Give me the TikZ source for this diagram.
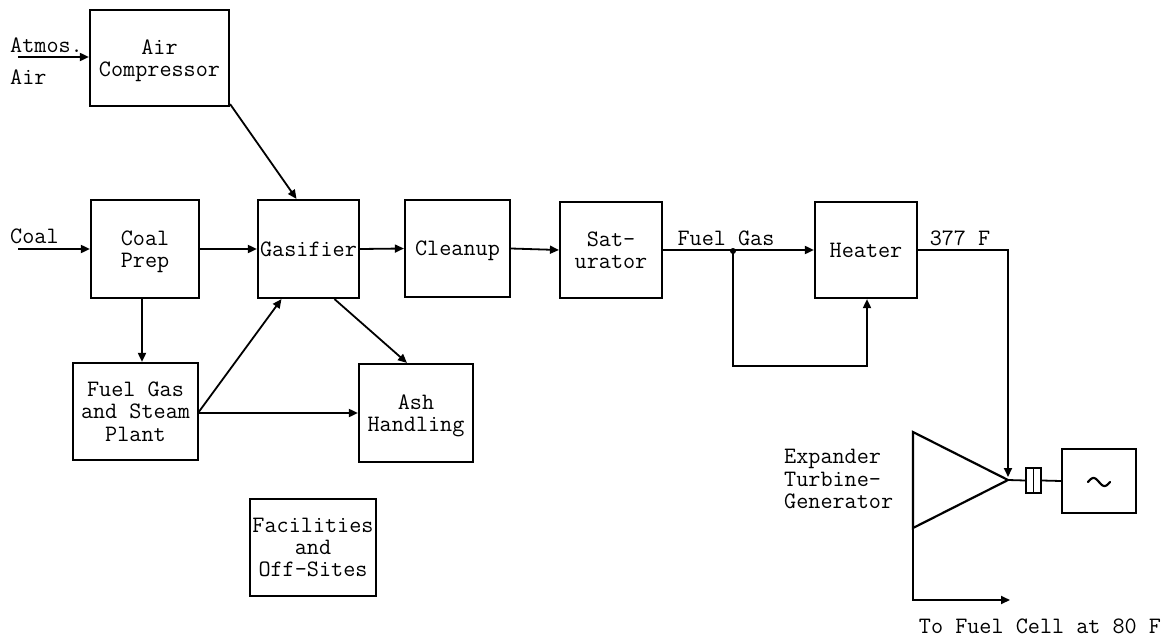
\documentclass[tikz,border=0pt]{standalone}
\usepackage{fontspec}
\usetikzlibrary{arrows.meta,calc}
\begin{document}
\begin{tikzpicture}[x=1pt,y=-1pt,
  every node/.style={font=\ttfamily\fontsize{23.5}{22.3}\selectfont, inner sep=0pt},
  box/.style={draw, line width=2.2pt, align=center, text depth=0pt},
  lbl/.style={align=left},
  flow/.style={line width=1.8pt, -{Triangle[length=9pt,width=8pt]}},
  line/.style={line width=1.8pt}]
\useasboundingbox (0,0) rectangle (1173,642);
% boxes
\node[box, minimum width=139, minimum height=96] (ac) at (159.5,58) {Air\\Compressor};
\node[box, minimum width=108, minimum height=98] (cp) at (145,249) {Coal\\Prep};
\node[box, minimum width=101, minimum height=98] (gas) at (308.5,249) {Gasifier};
\node[box, minimum width=105, minimum height=97] (cl) at (457.5,248.5) {Cleanup};
\node[box, minimum width=102, minimum height=96] (sat) at (611,250) {Sat-\\urator};
\node[box, minimum width=102, minimum height=96] (heat) at (866,250) {Heater};
\node[box, minimum width=125, minimum height=97] (fg) at (135.5,411.5) {Fuel Gas\\and Steam\\Plant};
\node[box, minimum width=114, minimum height=98] (ash) at (416,413) {Ash\\Handling};
\node[box, minimum width=126, minimum height=97] (fac) at (313,547.5) {Facilities\\and\\Off-Sites};
\node[box, minimum width=74, minimum height=64] (gen) at (1099,481) {};
\begin{scope}[shift={(gen.center)}]
  \draw[line width=2.2pt, line cap=round] plot[domain=-11:11, samples=40, smooth] ({\x},{1+4*sin(\x*180/11)});
\end{scope}
% turbine
\coordinate (tl) at (913,432);
\coordinate (bl) at (913,528);
\coordinate (tip) at (1008,480);
\draw[line width=2.2pt, line join=miter] (tl) -- (tip) -- (bl) -- cycle;
\node[draw, line width=1.8pt, minimum width=15, minimum height=25] (cpl) at (1033.5,480.5) {};
\draw[line width=1.5pt] (cpl.north) -- (cpl.south);
\draw[line] (tip) -- (cpl.west);
\draw[line] (cpl.east) -- (gen.west);
% labels
\node[anchor=west] (atm) at (10,45) {Atmos.};
\node[anchor=west] (air) at (10,77) {Air};
\node[anchor=west] (coal) at (10,236) {Coal};
\node (fuelgas) at (726,238) {Fuel Gas};
\node (t377) at (960,238) {377 F};
\node[lbl, anchor=west] (exp) at (784,479) {Expander\\Turbine-\\Generator};
\node (tofc) at (1040,626) {To Fuel Cell at 80 F};
% inputs
\coordinate (atmin) at (18,57);
\coordinate (coalin) at (18,249);
\draw[flow] (atmin) -- (atmin -| ac.west);
\draw[flow] (coalin) -- (coalin -| cp.west);
% main line
\draw[flow] (cp.east) -- (gas.west);
\draw[flow] (gas.east) -- (cl.west);
\draw[flow] (cl.east) -- (sat.west);
\coordinate (j) at (733,251);
\draw[flow] (sat.east) -- (heat.west);
\fill (j) circle (3pt);
\coordinate (lb) at (733,366);
\coordinate (rb) at (867,366);
\draw[flow] (j) -- (lb) -- (rb) -- (rb |- heat.south);
\coordinate (hc) at (1008,250);
\draw[flow] (heat.east) -- (hc) -- ([yshift=3pt]tip);
\coordinate (ex) at (913,600);
\coordinate (exe) at (1010,600);
\draw[flow] (bl) -- (ex) -- (exe);
% side flows
\draw[flow] ([yshift=3pt]ac.south east) -- ([xshift=-12pt]gas.north);
\draw[flow] ([xshift=-3pt]cp.south) -- ([xshift=-3pt]cp.south |- fg.north);
\coordinate (fgo) at (198,413);
\draw[flow] (fgo) -- ([xshift=-27pt]gas.south);
\draw[flow] (fgo) -- (fgo -| ash.west);
\draw[flow] ([xshift=26pt]gas.south) -- ([xshift=-9pt]ash.north);
\end{tikzpicture}
\end{document}
